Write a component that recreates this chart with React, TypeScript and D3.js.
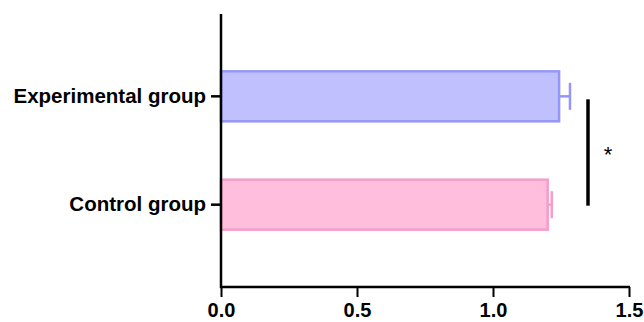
import React, { useEffect, useRef } from 'react';
import * as d3 from 'd3';

const groups = ['Experimental group', 'Control group'];
const means = [1.243, 1.201];
const errors = [0.04, 0.015];
const fills = ['#c0c0ff', '#ffbedc'];
const strokes = ['#9595fa', '#f79dc8'];
const xTicks = [0.0, 0.5, 1.0, 1.5];

const App = () => {
  const svgRef = useRef<SVGSVGElement | null>(null);

  useEffect(() => {
    if (!svgRef.current) return;
    const svg = d3.select(svgRef.current);
    svg.selectAll('*').remove();

    const left = 221;
    const right = 629;
    const top = 14;
    const bottom = 287;
    const font = '"Liberation Sans", Arial, sans-serif';

    const x = d3.scaleLinear().domain([0, 1.5]).range([left, right]);
    const y = d3.scaleBand().domain(groups).range([top, bottom]).padding(0.52);

    // Bars
    const data = groups.map((g, i) => ({ g, v: means[i], e: errors[i], fill: fills[i], stroke: strokes[i] }));
    svg.selectAll('.bar')
      .data(data)
      .join('rect')
      .attr('x', x(0))
      .attr('y', d => y(d.g)! + 1)
      .attr('width', d => x(d.v) - x(0))
      .attr('height', y.bandwidth() - 2)
      .attr('fill', d => d.fill)
      .attr('stroke', d => d.stroke)
      .attr('stroke-width', 2.5);

    // Error bars
    data.forEach(d => {
      const cy = y(d.g)! + y.bandwidth() / 2;
      const capH = y.bandwidth() * 0.52;
      svg.append('line')
        .attr('x1', x(d.v)).attr('x2', x(d.v + d.e))
        .attr('y1', cy).attr('y2', cy)
        .attr('stroke', d.stroke).attr('stroke-width', 2.5);
      svg.append('line')
        .attr('x1', x(d.v + d.e)).attr('x2', x(d.v + d.e))
        .attr('y1', cy - capH / 2).attr('y2', cy + capH / 2)
        .attr('stroke', d.stroke).attr('stroke-width', 2.5);
    });

    // X axis: minor ticks every 0.05, labelled majors every 0.5
    const xAxis = svg.append('g').attr('transform', `translate(0,${bottom})`);
    xAxis.call(
      d3.axisBottom(x)
        .tickValues(d3.range(0, 1.5001, 0.05))
        .tickSize(5)
        .tickFormat(() => '')
    );
    xAxis.call(
      d3.axisBottom(x)
        .tickValues(xTicks)
        .tickSize(10)
        .tickPadding(6)
        .tickFormat(d3.format('.1f'))
    );
    xAxis.selectAll('.domain').remove();
    xAxis.selectAll('line').attr('stroke', '#000').attr('stroke-width', 2);
    xAxis.selectAll('text')
      .attr('fill', '#000')
      .style('font-family', font)
      .style('font-weight', 'bold')
      .style('font-size', '20px');
    svg.append('line')
      .attr('x1', left - 1).attr('x2', right + 1)
      .attr('y1', bottom).attr('y2', bottom)
      .attr('stroke', '#000').attr('stroke-width', 2.5);

    // Y axis
    const yAxis = svg.append('g').attr('transform', `translate(${left},0)`);
    yAxis.call(d3.axisLeft(y).tickSize(10).tickPadding(5));
    yAxis.selectAll('.domain').remove();
    yAxis.selectAll('line').attr('stroke', '#000').attr('stroke-width', 2.5);
    yAxis.selectAll('text')
      .attr('fill', '#000')
      .style('font-family', font)
      .style('font-weight', 'bold')
      .style('font-size', '20.5px');
    svg.append('line')
      .attr('x1', left).attr('x2', left)
      .attr('y1', top).attr('y2', bottom + 1)
      .attr('stroke', '#000').attr('stroke-width', 2.5);

    // Significance bracket
    const sx = 588;
    const y1 = y(groups[0])! + y.bandwidth() / 2 + 3;
    const y2 = y(groups[1])! + y.bandwidth() / 2 + 1;
    svg.append('line')
      .attr('x1', sx).attr('x2', sx)
      .attr('y1', y1).attr('y2', y2)
      .attr('stroke', '#000').attr('stroke-width', 3.5);
    svg.append('text')
      .attr('x', 608)
      .attr('y', (y1 + y2) / 2 + 9)
      .attr('text-anchor', 'middle')
      .style('font-family', font)
      .style('font-size', '22px')
      .text('*');
  }, []);

  return (
    <svg
      ref={svgRef}
      width={644}
      height={322}
      style={{ position: 'absolute', left: 0, top: 0, background: '#fff' }}
    />
  );
};

export default App;
